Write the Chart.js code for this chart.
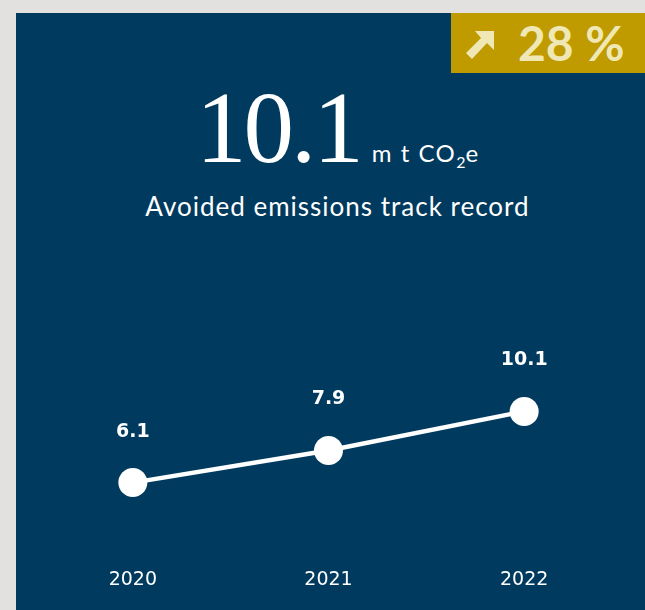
<!DOCTYPE html>
<html>
<head>
<meta charset="utf-8">
<script src="https://cdn.jsdelivr.net/npm/chart.js@4"></script>
<style>
  html, body { margin: 0; padding: 0; }
  body { width: 645px; height: 610px; background: #e3e1df; position: relative; overflow: hidden; }
  #panel { position: absolute; left: 16px; top: 13px; width: 629px; height: 597px; background: #003a5e; }
  #badge { position: absolute; left: 451px; top: 13px; width: 194px; height: 60px; background: #bf9b00; }
  #badge svg { position: absolute; left: 14px; top: 18px; }
  #badgeText { position: absolute; left: 67px; top: 4px; font: bold 48px Lato, sans-serif; color: #efe7b4; line-height: 52px; white-space: nowrap; }
  #headline { position: absolute; left: 196px; top: 70px; color: #fff; white-space: nowrap; line-height: 1; }
  #bigNum { font: 101px "Liberation Serif", serif; letter-spacing: -3px; }
  #unit { font: 24px Lato, sans-serif; letter-spacing: 1.5px; margin-left: 11px; }
  #unit sub { font-size: 16px; vertical-align: -6px; letter-spacing: 0; }
  #subtitle { position: absolute; left: 15px; width: 645px; top: 190px; text-align: center; color: #fff; font: 26px Lato, sans-serif; letter-spacing: 1px; }
  #wrap { position: absolute; left: 16px; top: 250px; width: 629px; height: 360px; }
</style>
</head>
<body>
<div id="panel"></div>
<div id="badge">
  <svg width="30" height="30" viewBox="0 0 30 30"><path d="M10 0 H29 V19 L22 12 L7 28 L1 22 L16 7 Z" fill="#efe7b4"/></svg>
  <div id="badgeText">28 %</div>
</div>
<div id="headline"><span id="bigNum">10.1</span><span id="unit">m t CO<sub>2</sub>e</span></div>
<div id="subtitle">Avoided emissions track record</div>
<div id="wrap"><canvas id="myChart"></canvas></div>
<script>
const years = ["2020", "2021", "2022"];
const emissions = [6.1, 7.9, 10.1];
const valueLabels = ["6.1", "7.9", "10.1"];

// Zeichnet die Werte über den Punkten
const valueLabelPlugin = {
  id: "valueLabels",
  afterDatasetsDraw(chart) {
    const ctx = chart.ctx;
    const meta = chart.getDatasetMeta(0);
    ctx.save();
    ctx.fillStyle = "#ffffff";
    ctx.font = "bold 19px 'DejaVu Sans', sans-serif";
    ctx.textAlign = "center";
    ctx.textBaseline = "middle";
    meta.data.forEach((pt, i) => {
      ctx.fillText(valueLabels[i], pt.x, pt.y - 51);
    });
    ctx.restore();
  },
};

const ctx = document.getElementById("myChart").getContext("2d");
new Chart(ctx, {
  type: "line",
  data: {
    labels: years,
    datasets: [
      {
        data: emissions,
        borderColor: "#ffffff",
        borderWidth: 4.5,
        pointRadius: 14.5,
        pointHoverRadius: 14.5,
        pointBackgroundColor: "#ffffff",
        pointBorderWidth: 0,
        tension: 0,
      },
    ],
  },
  options: {
    responsive: true,
    maintainAspectRatio: false,
    animation: false,
    events: [],
    clip: false,
    layout: { padding: { left: 19, right: 23, top: 0, bottom: 16 } },
    plugins: { legend: { display: false }, tooltip: { enabled: false } },
    scales: {
      x: {
        offset: true,
        grid: { display: false },
        border: { display: false },
        ticks: { color: "#ffffff", padding: 3, font: { family: "'DejaVu Sans', sans-serif", size: 19 } },
      },
      y: { display: false, min: 1.91, max: 18.35 },
    },
  },
  plugins: [valueLabelPlugin],
});
</script>
</body>
</html>
